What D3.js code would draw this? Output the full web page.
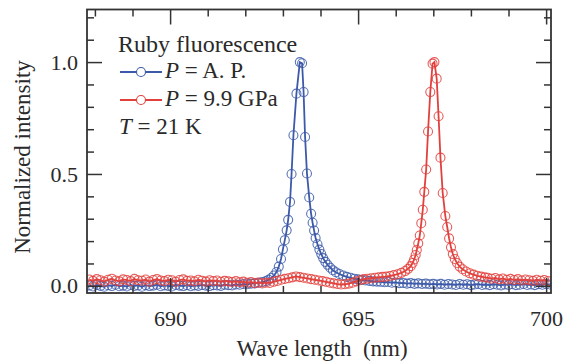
<!DOCTYPE html>
<html>
<head>
<meta charset="utf-8">
<script src="https://cdn.jsdelivr.net/npm/d3@7"></script>
<style>
  body { margin: 0; background: #fff; }
  svg { display: block; }
  .axis line { stroke: #333; stroke-width: 1.5; }
</style>
</head>
<body>
<svg id="chart" width="563" height="362"></svg>
<script>
// P = A. P. (ambient pressure)
const apWave = [
  687.85, 687.95, 688.05, 688.15, 688.25, 688.35, 688.45, 688.55, 688.65, 688.75,
  688.85, 688.95, 689.05, 689.15, 689.25, 689.35, 689.45, 689.55, 689.65, 689.75,
  689.85, 689.95, 690.05, 690.15, 690.25, 690.35, 690.45, 690.55, 690.65, 690.75,
  690.85, 690.95, 691.05, 691.15, 691.25, 691.35, 691.45, 691.55, 691.65, 691.75,
  691.85, 691.95, 692.05, 692.15, 692.25, 692.35, 692.45, 692.55,
  692.62, 692.69, 692.76, 692.83, 692.89, 692.95, 693.00, 693.05, 693.10, 693.14,
  693.19, 693.23, 693.28, 693.36, 693.45, 693.51, 693.55, 693.59, 693.64, 693.70,
  693.75, 693.79, 693.83, 693.87, 693.92, 693.97, 694.02, 694.07, 694.13, 694.19,
  694.26, 694.33, 694.41, 694.50, 694.60, 694.70, 694.80, 694.90, 695.00, 695.10,
  695.20, 695.30, 695.40, 695.50,
  695.60, 695.70, 695.80, 695.90, 696.00, 696.10, 696.20, 696.30, 696.40, 696.50,
  696.60, 696.70, 696.80, 696.90, 697.00, 697.10, 697.20, 697.30, 697.40, 697.50,
  697.60, 697.70, 697.80, 697.90, 698.00, 698.10, 698.20, 698.30, 698.40, 698.50,
  698.60, 698.70, 698.80, 698.90, 699.00, 699.10, 699.20, 699.30, 699.40, 699.50,
  699.60, 699.70, 699.80, 699.90, 700.00, 700.10
];
const apIntensity = [
  0.002, -0.003, 0.004, 0.000, -0.004, 0.003, -0.001, 0.005, -0.002, 0.001,
  -0.003, 0.004, 0.000, 0.002, -0.004, 0.003, -0.001, 0.001, 0.005, -0.002,
  0.002, 0.000, -0.003, 0.004, 0.001, -0.001, 0.003, -0.002, 0.002, 0.000,
  0.004, 0.001, -0.001, 0.003, 0.002, 0.000, 0.005, 0.003, 0.002, 0.006,
  0.005, 0.008, 0.007, 0.010, 0.011, 0.014, 0.017, 0.021,
  0.027, 0.035, 0.046, 0.062, 0.086, 0.120, 0.163, 0.204, 0.248, 0.295,
  0.375, 0.500, 0.673, 0.859, 1.000, 0.995, 0.866, 0.665, 0.502, 0.395,
  0.322, 0.282, 0.247, 0.214, 0.186, 0.162, 0.142, 0.124, 0.107, 0.094,
  0.081, 0.070, 0.061, 0.053, 0.046, 0.040, 0.036, 0.032, 0.029, 0.026,
  0.024, 0.022, 0.020, 0.019,
  0.018, 0.016, 0.017, 0.014, 0.015, 0.012, 0.013, 0.010, 0.012, 0.009,
  0.011, 0.008, 0.010, 0.007, 0.009, 0.006, 0.009, 0.005, 0.008, 0.006,
  0.004, 0.008, 0.005, 0.007, 0.003, 0.006, 0.008, 0.004, 0.006, 0.003,
  0.007, 0.005, 0.002, 0.006, 0.004, 0.007, 0.003, 0.005, 0.008, 0.004,
  0.006, 0.003, 0.007, 0.005, 0.008, 0.006
];

// P = 9.9 GPa
const gpaWave = [
  687.85, 687.95, 688.05, 688.15, 688.25, 688.35, 688.45, 688.55, 688.65, 688.75,
  688.85, 688.95, 689.05, 689.15, 689.25, 689.35, 689.45, 689.55, 689.65, 689.75,
  689.85, 689.95, 690.05, 690.15, 690.25, 690.35, 690.45, 690.55, 690.65, 690.75,
  690.85, 690.95, 691.05, 691.15, 691.25, 691.35, 691.45, 691.55, 691.65, 691.75,
  691.85, 691.95, 692.05, 692.15, 692.25, 692.35, 692.45, 692.55,
  692.65, 692.75, 692.85, 692.95, 693.05, 693.15, 693.25, 693.35, 693.45, 693.55,
  693.65, 693.75, 693.85, 693.95, 694.05, 694.15, 694.25, 694.35, 694.45, 694.55,
  694.65, 694.75, 694.85, 694.95,
  695.05, 695.15, 695.25, 695.35, 695.45, 695.55, 695.65, 695.75, 695.85, 695.95,
  696.05, 696.15, 696.25,
  696.33, 696.40, 696.45, 696.49, 696.53, 696.56, 696.60, 696.64, 696.68, 696.72,
  696.76, 696.81, 696.86, 696.92, 696.98, 697.03, 697.09, 697.14, 697.19, 697.25,
  697.32, 697.37, 697.42, 697.47, 697.52, 697.57, 697.63, 697.70, 697.78, 697.87,
  697.97, 698.07, 698.17, 698.27, 698.37,
  698.45, 698.55, 698.65, 698.75, 698.85, 698.95, 699.05, 699.15, 699.25, 699.35,
  699.45, 699.55, 699.65, 699.75, 699.85, 699.95, 700.05
];
const gpaIntensity = [
  0.028, 0.022, 0.030, 0.025, 0.019, 0.027, 0.032, 0.024, 0.020, 0.029,
  0.026, 0.021, 0.031, 0.025, 0.023, 0.028, 0.019, 0.026, 0.030, 0.024,
  0.021, 0.027, 0.025, 0.018, 0.026, 0.029, 0.022, 0.024, 0.020, 0.027,
  0.023, 0.019, 0.025, 0.021, 0.024, 0.018, 0.022, 0.020, 0.017, 0.021,
  0.016, 0.019, 0.014, 0.017, 0.012, 0.015, 0.011, 0.014,
  0.013, 0.018, 0.022, 0.027, 0.031, 0.034, 0.038, 0.042, 0.039, 0.036,
  0.033, 0.030, 0.027, 0.024, 0.021, 0.018, 0.014, 0.011, 0.008, 0.006,
  0.007, 0.010, 0.014, 0.020,
  0.025, 0.030, 0.032, 0.034, 0.036, 0.038, 0.040, 0.041, 0.044, 0.048,
  0.052, 0.058, 0.066,
  0.076, 0.088, 0.102, 0.118, 0.138, 0.160, 0.190, 0.225, 0.280, 0.340,
  0.420, 0.520, 0.690, 0.866, 0.993, 1.000, 0.926, 0.758, 0.573, 0.415,
  0.312, 0.263, 0.212, 0.172, 0.142, 0.120, 0.102, 0.086, 0.074, 0.064,
  0.056, 0.050, 0.045, 0.041, 0.038,
  0.036, 0.032, 0.035, 0.029, 0.033, 0.027, 0.031, 0.026, 0.030, 0.024,
  0.028, 0.025, 0.022, 0.027, 0.023, 0.026, 0.021
];

const xMajorTicks = [690, 695, 700];
const xMinorTicks = [688, 689, 691, 692, 693, 694, 696, 697, 698, 699];
const yMajorTicks = [0, 0.5, 1.0];
const yMinorTicks = [0.1, 0.2, 0.3, 0.4, 0.6, 0.7, 0.8, 0.9, 1.1, 1.2];

const series = [
  { name: "A. P.", wave: apWave, value: apIntensity, color: "#3c5aa9" },
  { name: "9.9 GPa", wave: gpaWave, value: gpaIntensity, color: "#e2403c" }
];

const serif = "'Liberation Serif', 'Times New Roman', serif";
const textColor = "#2a2a2a";

const width = 563, height = 362;
const margin = { top: 9.5, right: 12, bottom: 69, left: 87 };

const svg = d3.select("#chart");

const x = d3.scaleLinear()
  .domain([687.79, 700.13])
  .range([margin.left, width - margin.right]);
const y = d3.scaleLinear()
  .domain([-0.032, 1.235])
  .range([height - margin.bottom, margin.top]);

// clip the data to the frame
svg.append("clipPath").attr("id", "plot-clip")
  .append("rect")
  .attr("x", margin.left)
  .attr("y", margin.top)
  .attr("width", width - margin.left - margin.right)
  .attr("height", height - margin.top - margin.bottom);

const plot = svg.append("g").attr("clip-path", "url(#plot-clip)");

const line = d3.line()
  .x(d => x(d[0]))
  .y(d => y(d[1]));

series.forEach(s => {
  const pts = s.wave.map((w, i) => [w, s.value[i]]);
  const g = plot.append("g");
  g.selectAll("circle")
    .data(pts)
    .join("circle")
    .attr("cx", d => x(d[0]))
    .attr("cy", d => y(d[1]))
    .attr("r", 4.5)
    .attr("fill", "none")
    .attr("stroke", s.color)
    .attr("stroke-opacity", 0.85)
    .attr("stroke-width", 1.1);
  g.append("path")
    .datum(pts)
    .attr("d", line)
    .attr("fill", "none")
    .attr("stroke", s.color)
    .attr("stroke-width", 1.8);
});

// axes, ticks pointing inward on all four sides
const plotBottom = height - margin.bottom, plotTop = margin.top;
const plotLeft = margin.left, plotRight = width - margin.right;

function addAxis(axis, tx, ty) {
  const g = svg.append("g")
    .attr("class", "axis")
    .attr("transform", `translate(${tx},${ty})`)
    .call(axis);
  g.select(".domain").remove();
  g.attr("font-family", serif).attr("font-size", 22);
  g.selectAll("text").attr("fill", textColor);
  return g;
}

addAxis(d3.axisBottom(x).tickValues(xMajorTicks).tickSize(-15).tickPadding(17).tickFormat(d3.format("d")), 0, plotBottom);
addAxis(d3.axisBottom(x).tickValues(xMinorTicks).tickSize(-7).tickFormat(""), 0, plotBottom);
addAxis(d3.axisTop(x).tickValues(xMajorTicks).tickSize(-15).tickFormat(""), 0, plotTop);
addAxis(d3.axisTop(x).tickValues(xMinorTicks).tickSize(-7).tickFormat(""), 0, plotTop);
addAxis(d3.axisLeft(y).tickValues(yMajorTicks).tickSize(-15).tickPadding(9).tickFormat(d3.format(".1f")), plotLeft, 0);
addAxis(d3.axisLeft(y).tickValues(yMinorTicks).tickSize(-7).tickFormat(""), plotLeft, 0);
addAxis(d3.axisRight(y).tickValues(yMajorTicks).tickSize(-15).tickFormat(""), plotRight, 0);
addAxis(d3.axisRight(y).tickValues(yMinorTicks).tickSize(-7).tickFormat(""), plotRight, 0);

svg.append("rect")
  .attr("x", plotLeft)
  .attr("y", plotTop)
  .attr("width", plotRight - plotLeft)
  .attr("height", plotBottom - plotTop)
  .attr("fill", "none")
  .attr("stroke", "#333")
  .attr("stroke-width", 1.8);

// axis titles
svg.append("text")
  .attr("x", (plotLeft + plotRight) / 2 + 3)
  .attr("y", 356)
  .attr("text-anchor", "middle")
  .attr("font-family", serif)
  .attr("font-size", 23)
  .attr("fill", textColor)
  .attr("xml:space", "preserve")
  .text("Wave length  (nm)");

svg.append("text")
  .attr("transform", "translate(30,157) rotate(-90)")
  .attr("text-anchor", "middle")
  .attr("font-family", serif)
  .attr("font-size", 23)
  .attr("fill", textColor)
  .text("Normalized intensity");

// legend
const legend = svg.append("g")
  .attr("font-family", serif)
  .attr("font-size", 23)
  .attr("fill", textColor);
legend.append("text").attr("x", 118).attr("y", 52).attr("font-size", 24).text("Ruby fluorescence");

const rowY = [72, 100];
series.forEach((s, i) => {
  legend.append("line")
    .attr("x1", 120).attr("x2", 162)
    .attr("y1", rowY[i]).attr("y2", rowY[i])
    .attr("stroke", s.color).attr("stroke-width", 1.8);
  legend.append("circle")
    .attr("cx", 141).attr("cy", rowY[i]).attr("r", 4.5)
    .attr("fill", "#fff").attr("stroke", s.color).attr("stroke-width", 1.1);
  const t = legend.append("text").attr("x", 165).attr("y", rowY[i] + 6);
  t.append("tspan").attr("font-style", "italic").text("P");
  t.append("tspan").text(" = " + s.name);
});

const tRow = legend.append("text").attr("x", 119).attr("y", 134);
tRow.append("tspan").attr("font-style", "italic").text("T");
tRow.append("tspan").text(" = 21 K");
</script>
</body>
</html>
